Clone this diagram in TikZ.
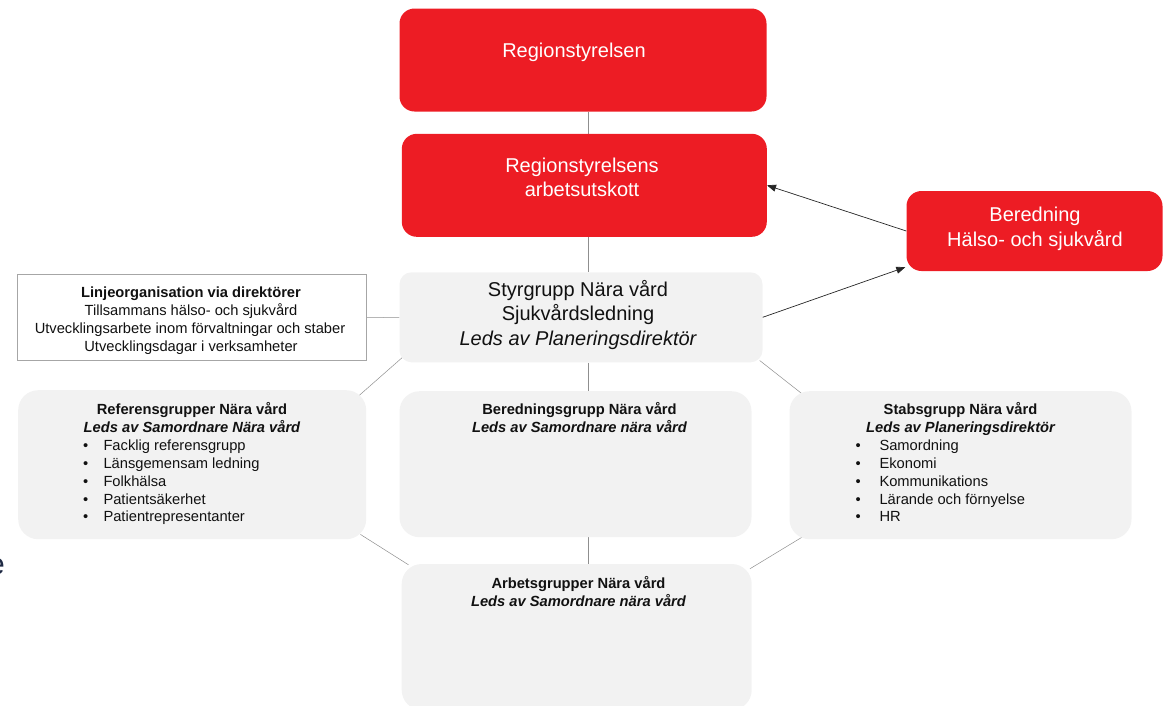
\documentclass[tikz,border=0pt]{standalone}
\usepackage{fontspec}
\setmainfont{Liberation Sans}
\usetikzlibrary{arrows.meta,calc}
\pgfdeclarelayer{background}
\pgfsetlayers{background,main}

\definecolor{regred}{HTML}{ED1C24}
\definecolor{panel}{HTML}{F2F2F2}
\definecolor{linkgray}{HTML}{8F8F8F}
\definecolor{framegray}{HTML}{A6A6A6}
\definecolor{inkblack}{HTML}{111111}
\definecolor{navy}{HTML}{1F2A44}

\begin{document}
\begin{tikzpicture}[x=1pt,y=-1pt,
  redbox/.style={fill=regred, draw=none, rounded corners=15pt, inner sep=0pt},
  panelbox/.style={fill=panel, draw=none, rounded corners=20pt, inner sep=0pt},
  framebox/.style={fill=white, draw=framegray, line width=1pt, inner sep=0pt},
  bigtext/.style={font=\fontsize{20}{24}\selectfont, inner sep=0pt, anchor=base},
  smalltext/.style={font=\fontsize{14.7}{18}\selectfont, text=inkblack, inner sep=0pt, anchor=base},
  whitetext/.style={bigtext, text=white},
  darktext/.style={bigtext, text=inkblack},
  link/.style={draw=linkgray, line width=0.5pt},
  flow/.style={draw=black!85, line width=0.7pt, -{Triangle[length=9pt,width=7pt]}}
]
\useasboundingbox (0,0) rectangle (1173,705);

% ---- boxes ----
\node[redbox, minimum width=367pt, minimum height=103pt] (rs) at (583,60) {};
\node[redbox, minimum width=365pt, minimum height=103pt] (au) at (584.3,185.3) {};
\node[redbox, minimum width=256pt, minimum height=80pt] (ber) at (1034.5,231) {};
\node[panelbox, rounded corners=12pt, minimum width=363pt, minimum height=90pt] (sty) at (581,317.3) {};
\node[framebox, minimum width=349pt, minimum height=86pt] (lin) at (192,317.7) {};
\node[panelbox, minimum width=348pt, minimum height=149pt] (ref) at (192.2,464.7) {};
\node[panelbox, minimum width=352pt, minimum height=146pt] (bgrp) at (575.5,464.2) {};
\node[panelbox, minimum width=342pt, minimum height=148pt] (stab) at (960.5,465.2) {};
\node[panelbox, minimum width=350pt, minimum height=146pt] (agrp) at (576.7,637) {};

% ---- connectors ----
\coordinate (axis) at (588,0);
\begin{pgfonlayer}{background}
  \draw[link] (rs.south -| axis) -- (au.north -| axis);
  \draw[link] (au.south -| axis) -- (sty.north -| axis);
  \draw[link] (sty.south -| axis) -- (bgrp.north -| axis);
  \draw[link] (bgrp.south -| axis) -- (agrp.north -| axis);
  \draw[link] (lin.east) -- (sty.west);
  \draw[link] ($(sty.south west)+(3,-5)$) -- ($(ref.north east)+(-9,7)$);
  \draw[link] ($(sty.south east)+(-3,-2)$) -- ($(stab.north west)+(13,3)$);
  \draw[link] ($(ref.south east)+(-6,-5)$) -- ($(agrp.north west)+(7,1)$);
  \draw[link] ($(stab.south west)+(14,-3)$) -- ($(agrp.north east)+(-2,5)$);
\end{pgfonlayer}
\draw[flow] (ber.west) -- (au.east);
\draw[flow] (sty.east) -- ([xshift=-1pt,yshift=4pt]ber.south west);

% ---- texts in the red boxes ----
\node[whitetext] (rs-t) at (574,57.3) {Regionstyrelsen};
\node[whitetext] (au-t1) at (582,172.7) {Regionstyrelsens};
\node[whitetext] (au-t2) at (582,196.7) {arbetsutskott};
\node[whitetext] (ber-t1) at (1035,221.7) {Beredning};
\node[whitetext] (ber-t2) at (1035,246) {Hälso- och sjukvård};

% ---- steering group ----
\node[darktext] (sty-t1) at (578,296.7) {Styrgrupp Nära vård};
\node[darktext] (sty-t2) at (578,320.7) {Sjukvårdsledning};
\node[darktext, font=\fontsize{20}{24}\selectfont\itshape] (sty-t3) at (578,345) {Leds av Planeringsdirektör};

% ---- line organisation ----
\node[smalltext, font=\fontsize{14.7}{18}\selectfont\bfseries] (lin-t1) at (191,297.5) {Linjeorganisation via direktörer};
\node[smalltext] (lin-t2) at (191,315.5) {Tillsammans hälso- och sjukvård};
\node[smalltext] (lin-t3) at (190,333.5) {Utvecklingsarbete inom förvaltningar och staber};
\node[smalltext] (lin-t4) at (191,351.5) {Utvecklingsdagar i verksamheter};

% ---- reference groups ----
\node[smalltext, font=\fontsize{14.7}{18}\selectfont\bfseries] (ref-t1) at (192,414.5) {Referensgrupper Nära vård};
\node[smalltext, font=\fontsize{14.7}{18}\selectfont\bfseries\itshape] (ref-t2) at (192,432.4) {Leds av Samordnare Nära vård};
\foreach \item [count=\k from 0] in {Facklig referensgrupp, Länsgemensam ledning, Folkhälsa, Patientsäkerhet, Patientrepresentanter} {
  \node[smalltext] (ref-b\k) at (85.7,450.3+17.9*\k) {•};
  \node[smalltext, anchor=base west] (ref-i\k) at (103.3,450.3+17.9*\k) {\item};
}

% ---- preparation group ----
\node[smalltext, font=\fontsize{14.7}{18}\selectfont\bfseries] (bgrp-t1) at (579.5,414.5) {Beredningsgrupp Nära vård};
\node[smalltext, font=\fontsize{14.7}{18}\selectfont\bfseries\itshape] (bgrp-t2) at (579.5,432.4) {Leds av Samordnare nära vård};

% ---- staff group ----
\node[smalltext, font=\fontsize{14.7}{18}\selectfont\bfseries] (stab-t1) at (960.5,414.5) {Stabsgrupp Nära vård};
\node[smalltext, font=\fontsize{14.7}{18}\selectfont\bfseries\itshape] (stab-t2) at (960.5,432.4) {Leds av Planeringsdirektör};
\foreach \item [count=\k from 0] in {Samordning, Ekonomi, Kommunikations, Lärande och förnyelse, HR} {
  \node[smalltext] (stab-b\k) at (858.3,450.3+17.9*\k) {•};
  \node[smalltext, anchor=base west] (stab-i\k) at (879.3,450.3+17.9*\k) {\item};
}

% ---- working groups ----
\node[smalltext, font=\fontsize{14.7}{18}\selectfont\bfseries] (agrp-t1) at (578.5,588.3) {Arbetsgrupper Nära vård};
\node[smalltext, font=\fontsize{14.7}{18}\selectfont\bfseries\itshape] (agrp-t2) at (578.5,606.5) {Leds av Samordnare nära vård};

% ---- letter at the left edge ----
\node[font=\fontsize{30}{30}\selectfont, text=navy, inner sep=0pt, anchor=base east] (edge-e) at (5,574) {e};
\end{tikzpicture}
\end{document}
